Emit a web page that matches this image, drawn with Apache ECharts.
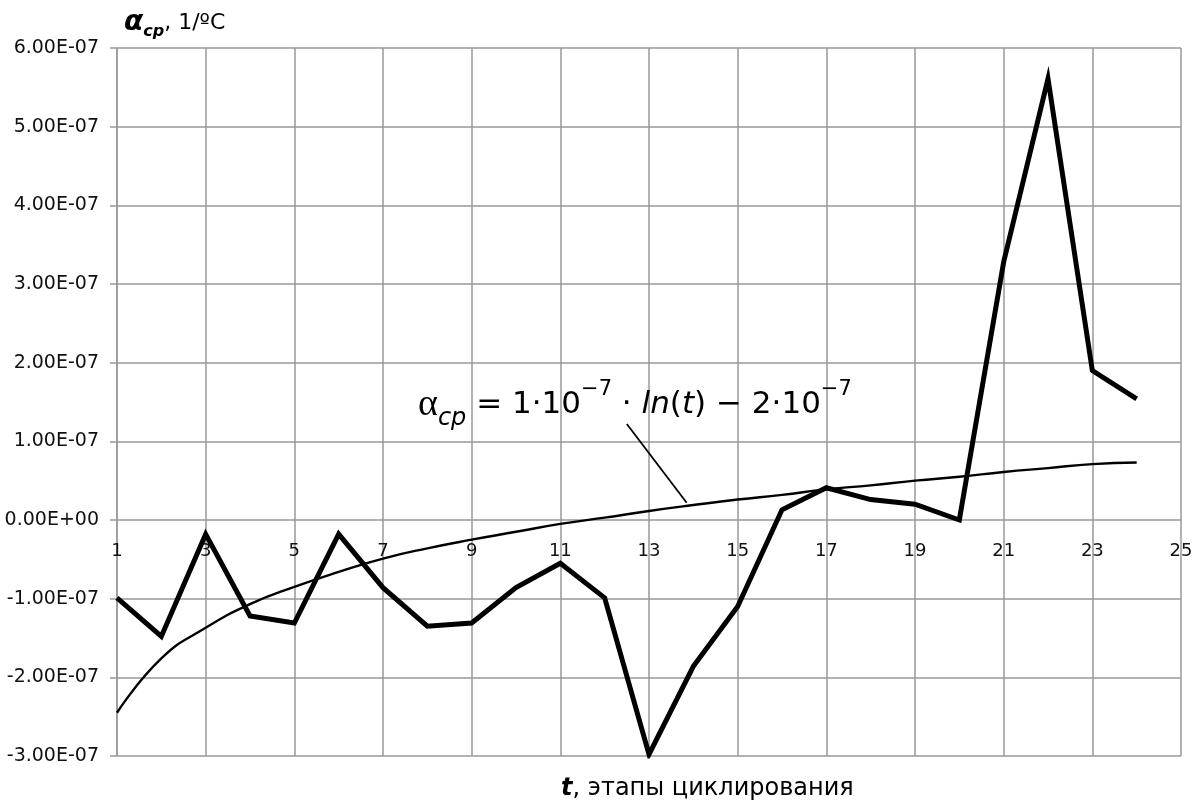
<!DOCTYPE html>
<html>
<head>
<meta charset="utf-8">
<script src="https://cdn.jsdelivr.net/npm/echarts@6/dist/echarts.min.js"></script>
<style>
  html, body { margin: 0; padding: 0; background: #fff; }
  #chart { width: 1201px; height: 803px; }
</style>
</head>
<body>
<div id="chart"></div>
<script>
// ---- data ----
const steps = [1,2,3,4,5,6,7,8,9,10,11,12,13,14,15,16,17,18,19,20,21,22,23,24];
const alphaValues = [
  -0.99e-7, -1.48e-7, -0.18e-7, -1.22e-7, -1.31e-7, -0.18e-7, -0.86e-7, -1.35e-7,
  -1.31e-7, -0.86e-7, -0.55e-7, -0.99e-7, -2.98e-7, -1.86e-7, -1.10e-7, 0.13e-7,
  0.41e-7, 0.26e-7, 0.20e-7, 0.00e-7, 3.28e-7, 5.61e-7, 1.90e-7, 1.54e-7
];
const trendValues = [
  -2.45e-7, -1.76e-7, -1.37e-7, -1.07e-7, -0.85e-7, -0.66e-7, -0.49e-7, -0.36e-7,
  -0.25e-7, -0.15e-7, -0.05e-7, 0.03e-7, 0.115e-7, 0.19e-7, 0.26e-7, 0.32e-7,
  0.39e-7, 0.44e-7, 0.50e-7, 0.55e-7, 0.61e-7, 0.66e-7, 0.71e-7, 0.73e-7
];
const leaderLine = [[12.5, 1.22e-7], [13.85, 0.22e-7]];
const xTicks = { min: 1, max: 25, step: 2 };
const yTicks = { min: -3e-7, max: 6e-7, step: 1e-7 };
const yTitle = { alpha: 'α', sub: 'cp', rest: ', 1/ºC' };
const xTitle = { t: 't', rest: ', этапы циклирования' };

function fmtExp(v) {
  if (Math.abs(v) < 1e-15) return '0.00E+00';
  const s = v.toExponential(2).toUpperCase();
  const parts = s.split('E');
  let e = parseInt(parts[1], 10);
  const sign = e < 0 ? '-' : '+';
  e = Math.abs(e);
  return parts[0] + 'E' + sign + (e < 10 ? '0' + e : '' + e);
}

const gridColor = '#999999';
const textColor = '#111111';
const FONT = 'DejaVu Sans';
const chart = echarts.init(document.getElementById('chart'), null, { renderer: 'canvas' });

const option = {
  backgroundColor: '#ffffff',
  animation: false,
  grid: { left: 117, right: 20, top: 48, bottom: 47, containLabel: false },
  title: [
    {
      left: 119, top: 1,
      text: '{a|' + yTitle.alpha + '}{s|' + yTitle.sub + '}{n|' + yTitle.rest + '}',
      textStyle: {
        fontWeight: 'normal',
        rich: {
          a: { fontFamily: FONT, fontSize: 28, fontWeight: 'bold', fontStyle: 'italic', color: '#000', lineHeight: 34, verticalAlign: 'middle' },
          s: { fontFamily: FONT, fontSize: 16, fontWeight: 'bold', fontStyle: 'italic', color: '#000', lineHeight: 18, verticalAlign: 'bottom' },
          n: { fontFamily: FONT, fontSize: 22, fontWeight: 'normal', color: '#000', lineHeight: 34, verticalAlign: 'middle' }
        }
      }
    },
    {
      left: 556, top: 772,
      text: '{t|' + xTitle.t + '}{n|' + xTitle.rest + '}',
      textStyle: {
        fontWeight: 'normal',
        rich: {
          t: { fontFamily: FONT, fontSize: 24, fontWeight: 'bold', fontStyle: 'italic', color: '#000' },
          n: { fontFamily: FONT, fontSize: 24, fontWeight: 'normal', color: '#000' }
        }
      }
    }
  ],
  xAxis: {
    type: 'value',
    min: xTicks.min, max: xTicks.max, interval: xTicks.step,
    position: 'bottom',
    offset: 0,
    axisLine: { show: false, onZero: false },
    axisTick: { show: false },
    axisLabel: { margin: 22, fontFamily: FONT, fontSize: 18, color: textColor, showMinLabel: true, showMaxLabel: true },
    splitLine: { show: true, lineStyle: { color: gridColor, width: 1.5 } }
  },
  yAxis: {
    type: 'value',
    min: yTicks.min, max: yTicks.max, interval: yTicks.step,
    axisLine: { show: true, onZero: false, lineStyle: { color: gridColor, width: 1.5 } },
    axisTick: { show: true, length: 7, lineStyle: { color: gridColor, width: 1.5 } },
    axisLabel: { margin: 18, fontFamily: FONT, fontSize: 19, color: textColor, formatter: fmtExp },
    splitLine: { show: true, lineStyle: { color: gridColor, width: 1.5 } }
  },
  series: [
    {
      name: 'alpha', type: 'line',
      data: steps.map((t, i) => [t, alphaValues[i]]),
      showSymbol: false, symbol: 'none',
      lineStyle: { color: '#000', width: 5, join: 'miter' },
      z: 3
    },
    {
      name: 'trend', type: 'line', smooth: 0.5,
      data: steps.map((t, i) => [t, trendValues[i]]),
      showSymbol: false, symbol: 'none',
      lineStyle: { color: '#000', width: 2.4 },
      z: 2
    },
    {
      name: 'leader', type: 'line',
      data: leaderLine,
      showSymbol: false, symbol: 'none',
      lineStyle: { color: '#000', width: 1.8 },
      z: 2
    }
  ],
  graphic: [
    {
      type: 'text', left: 418, top: 379, z: 10,
      style: {
        text: '{a|α}{s|cp}{m| = 1·10}{p|−7}{m| · }{i|ln}{m|(}{i|t}{m|) − 2·10}{p|−7}',
        fill: '#000',
        rich: {
          a: { fontFamily: 'Liberation Serif', fontSize: 38, lineHeight: 52, verticalAlign: 'middle', fill: '#000' },
          s: { fontFamily: FONT, fontSize: 24, fontStyle: 'italic', lineHeight: 30, verticalAlign: 'bottom', fill: '#000' },
          m: { fontFamily: FONT, fontSize: 31, lineHeight: 52, verticalAlign: 'middle', fill: '#000' },
          i: { fontFamily: FONT, fontSize: 31, fontStyle: 'italic', lineHeight: 52, verticalAlign: 'middle', fill: '#000' },
          p: { fontFamily: FONT, fontSize: 21, lineHeight: 22, verticalAlign: 'top', fill: '#000' }
        }
      }
    }
  ]
};
chart.setOption(option);

// place the x axis (labels) on the zero line of the y axis, through the library's scale
const zeroPx = chart.convertToPixel({ yAxisIndex: 0 }, 0);
const bottomPx = chart.convertToPixel({ yAxisIndex: 0 }, yTicks.min);
chart.setOption({ xAxis: { offset: zeroPx - bottomPx } });
</script>
</body>
</html>
